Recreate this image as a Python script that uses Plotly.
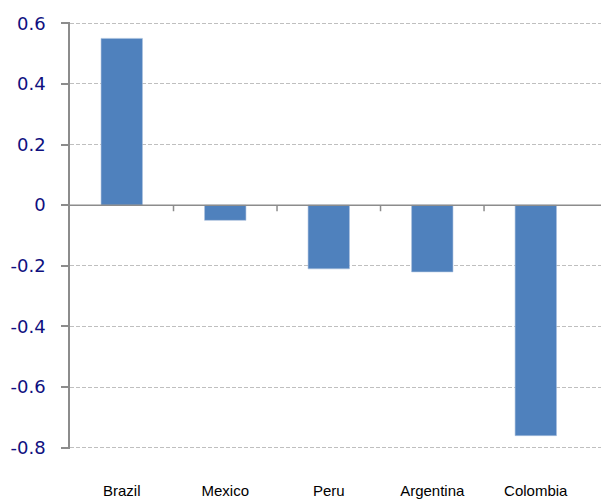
import plotly.graph_objects as go

countries = ["Brazil", "Mexico", "Peru", "Argentina", "Colombia"]
values = [0.55, -0.05, -0.21, -0.22, -0.76]
y_ticks = [0.6, 0.4, 0.2, 0, -0.2, -0.4, -0.6, -0.8]
y_tick_text = ["0.6", "0.4", "0.2", "0", "-0.2", "-0.4", "-0.6", "-0.8"]

fig = go.Figure()
fig.add_trace(go.Bar(
    x=list(range(len(countries))),
    y=values,
    marker=dict(color="#4F81BD", line=dict(color="#A9C0DE", width=0.6)),
    width=0.4,
))

# zero axis line with category-boundary ticks
shapes = [dict(type="line", xref="paper", yref="y", x0=0, x1=1, y0=0, y1=0,
               line=dict(color="#8C8C8C", width=1.5), layer="above")]
for i in range(1, len(countries)):
    shapes.append(dict(type="line", xref="x", yref="y", x0=i - 0.5, x1=i - 0.5,
                       y0=0, y1=-0.02, line=dict(color="#8C8C8C", width=1.5)))
fig.update_layout(shapes=shapes)

fig.update_layout(
    width=601, height=499,
    margin=dict(l=70, r=0, t=22, b=47),
    paper_bgcolor="white", plot_bgcolor="white",
    showlegend=False,
    xaxis=dict(
        range=[-0.5, 4.63],
        tickmode="array",
        tickvals=list(range(len(countries))),
        ticktext=countries,
        showgrid=False, zeroline=False, showline=False,
        ticks="", ticklabelstandoff=31,
        tickfont=dict(family="Liberation Sans, Arial", size=15, color="#000000"),
    ),
    yaxis=dict(
        range=[-0.804, 0.604],
        tickmode="array",
        tickvals=y_ticks,
        ticktext=y_tick_text,
        showgrid=True, gridcolor="#BFBFBF", griddash="4px,2px", gridwidth=1,
        zeroline=False,
        showline=True, linecolor="#8C8C8C", linewidth=1.5,
        ticks="outside", ticklen=7, tickcolor="#8C8C8C", tickwidth=1.5,
        ticklabelstandoff=12,
        tickfont=dict(family="DejaVu Sans", size=18, color="#10107F"),
    ),
)

fig.write_html("out.html")
